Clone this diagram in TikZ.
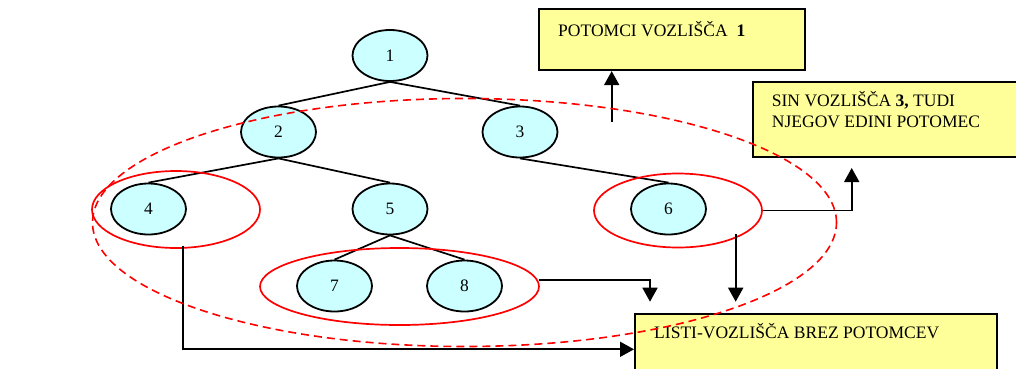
\documentclass[tikz,border=0pt]{standalone}
\usepackage{fontspec}
\setmainfont{Liberation Serif}
\usetikzlibrary{shapes.geometric,arrows.meta,calc}
\definecolor{nodecyan}{HTML}{CCFFFF}
\definecolor{noteyellow}{HTML}{FFFF99}
\begin{document}
\begin{tikzpicture}[x=1bp,y=-1bp,
  treenode/.style={ellipse, draw=black, line width=1.8bp, fill=nodecyan,
    minimum width=75bp, minimum height=51bp, inner sep=0pt,
    font=\fontsize{17.5}{20}\selectfont},
  group/.style={ellipse, draw=red, line width=1.7bp, inner sep=0pt},
  notebox/.style={rectangle, draw=black, line width=2.1bp, fill=noteyellow,
    inner sep=0pt, anchor=north west},
  boxtext/.style={inner sep=0pt, anchor=base west,
    font=\fontsize{17.6}{21.3}\selectfont},
  link/.style={line width=1.7bp},
  pointer/.style={line width=1.8bp, -{Triangle[width=15bp,length=14bp]}}]
\useasboundingbox (0,0) rectangle (1016,368);
\clip (0,0) rectangle (1016,368);

% note boxes
\node[notebox, minimum width=266bp, minimum height=61bp] (boxdesc) at (538,8) {};
\node[notebox, minimum width=285bp, minimum height=75bp] (boxson) at (752,81) {};
\node[notebox, minimum width=362bp, minimum height=80bp] (boxleaf) at (634,313) {};
\node[boxtext] (desctext) at ($(boxdesc.north west)+(20,28)$) {POTOMCI VOZLIŠČA\ \ \textbf{1}};
\node[boxtext] (sontext) at ($(boxson.north west)+(19.7,25)$)
  {\parbox[t]{240bp}{SIN VOZLIŠČA \textbf{3,} TUDI\\NJEGOV EDINI POTOMEC}};
\node[boxtext] (leaftext) at ($(boxleaf.north west)+(20,25.3)$) {LISTI-VOZLIŠČA BREZ POTOMCEV};

% tree
\node[treenode] (n1) at (390,55.5) {1\hspace{17bp}};
\node[treenode] (n2) at (278.5,132) {2\hspace{17bp}};
\node[treenode] (n3) at (520,132) {3\hspace{17bp}};
\node[treenode] (n4) at (148.5,209) {4\hspace{17bp}};
\node[treenode] (n5) at (390,209) {5\hspace{17bp}};
\node[treenode] (n6) at (668.5,209) {6\hspace{17bp}};
\node[treenode] (n7) at (334.5,286) {7\hspace{17bp}};
\node[treenode] (n8) at (464.5,286) {8\hspace{17bp}};
\draw[link] (n1.south) -- (n2.north);
\draw[link] (n1.south) -- (n3.north);
\draw[link] (n2.south) -- (n4.north);
\draw[link] (n2.south) -- (n5.north);
\draw[link] (n3.south) -- (n6.north);
\draw[link] (n5.south) -- (n7.north);
\draw[link] (n5.south) -- (n8.north);

% leaf groups
\node[group, minimum width=168bp, minimum height=77bp] (g4) at (176,209.5) {};
\node[group, minimum width=279bp, minimum height=77bp] (g78) at (399.5,286.5) {};
\node[group, minimum width=168bp, minimum height=74bp] (g6) at (678,210.5) {};

% pointers
\coordinate (descfrom) at (611.7,121.7);
\draw[pointer] (descfrom) -- (descfrom |- boxdesc.south);
\coordinate (sontip) at (851.7,168);
\draw[pointer] (g6.east) -| (sontip);
\coordinate (g6foot) at (735.7,234);
\coordinate (leaftipa) at (735.7,301.7);
\draw[pointer] (g6foot) -- (leaftipa);
\coordinate (g78side) at (538.6,279.7);
\coordinate (leaftipb) at (650,301.7);
\draw[pointer] (g78side) -| (leaftipb);
\coordinate (g4foot) at (183.3,245.7);
\coordinate (leafin) at ($(boxleaf.north west)+(0,36.3)$);
\draw[pointer] (g4foot) |- (leafin);

% all descendants of node 1
\node[ellipse, draw=red, dash pattern=on 8bp off 5bp, line width=1.6bp,
  minimum width=744bp, minimum height=248bp, inner sep=0pt] (desc) at (464.5,222.5) {};
\end{tikzpicture}
\end{document}
